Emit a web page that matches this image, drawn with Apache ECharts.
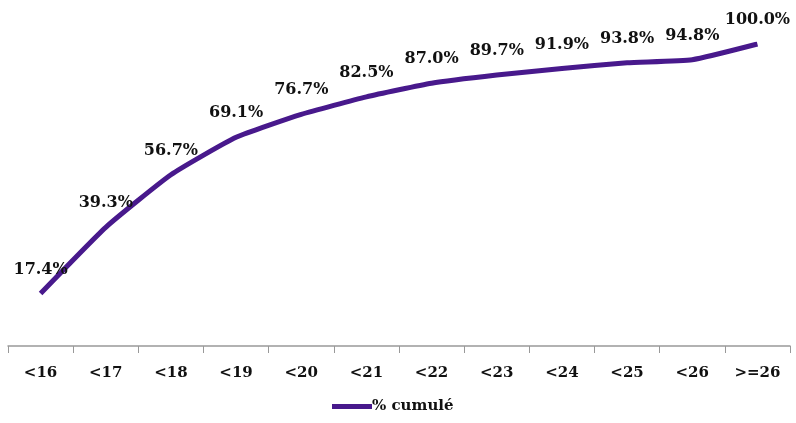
<!DOCTYPE html>
<html><head><meta charset="utf-8">
<script src="https://cdn.jsdelivr.net/npm/echarts@6/dist/echarts.min.js"></script>
<style>html,body{margin:0;padding:0;background:#fff}#c{width:796px;height:423px}</style>
</head><body><div id="c"></div>
<script>
const categories = ['<16','<17','<18','<19','<20','<21','<22','<23','<24','<25','<26','>=26'];
const cumulValues = [17.4, 39.3, 56.7, 69.1, 76.7, 82.5, 87.0, 89.7, 91.9, 93.8, 94.8, 100.0];
const seriesName = '% cumulé';
const font = '"DejaVu Serif", serif';
const chart = echarts.init(document.getElementById('c'));
chart.setOption({
  animation: false,
  backgroundColor: '#fff',
  grid: {left: 8, right: 6, top: 44, bottom: 77, containLabel: false},
  xAxis: {
    type: 'category', data: categories, boundaryGap: true,
    axisLine: {lineStyle: {color: '#999', width: 1.5}},
    axisTick: {show: true, length: 7, lineStyle: {color: '#999'}},
    axisLabel: {color: '#111', fontFamily: font, fontWeight: 'bold', fontSize: 15, margin: 20}
  },
  yAxis: {type: 'value', min: 0, max: 100, show: false, splitLine: {show: false}},
  legend: {
    bottom: 4, left: 327, icon: 'rect', itemWidth: 40, itemHeight: 5, itemGap: 0,
    textStyle: {fontFamily: font, fontWeight: 'bold', fontSize: 15, color: '#111', padding: [0,0,0,-5]},
    data: [seriesName]
  },
  series: [{
    name: seriesName, type: 'line', data: cumulValues, smooth: 0.15,
    showSymbol: true, symbol: 'circle', symbolSize: 0.1,
    lineStyle: {color: '#48198c', width: 5},
    itemStyle: {color: '#48198c'},
    label: {show: true, position: 'top', distance: 16, color: '#111',
      fontFamily: font, fontWeight: 'bold', fontSize: 16,
      formatter: p => p.value.toFixed(1) + '%'}
  }]
});
</script></body></html>
